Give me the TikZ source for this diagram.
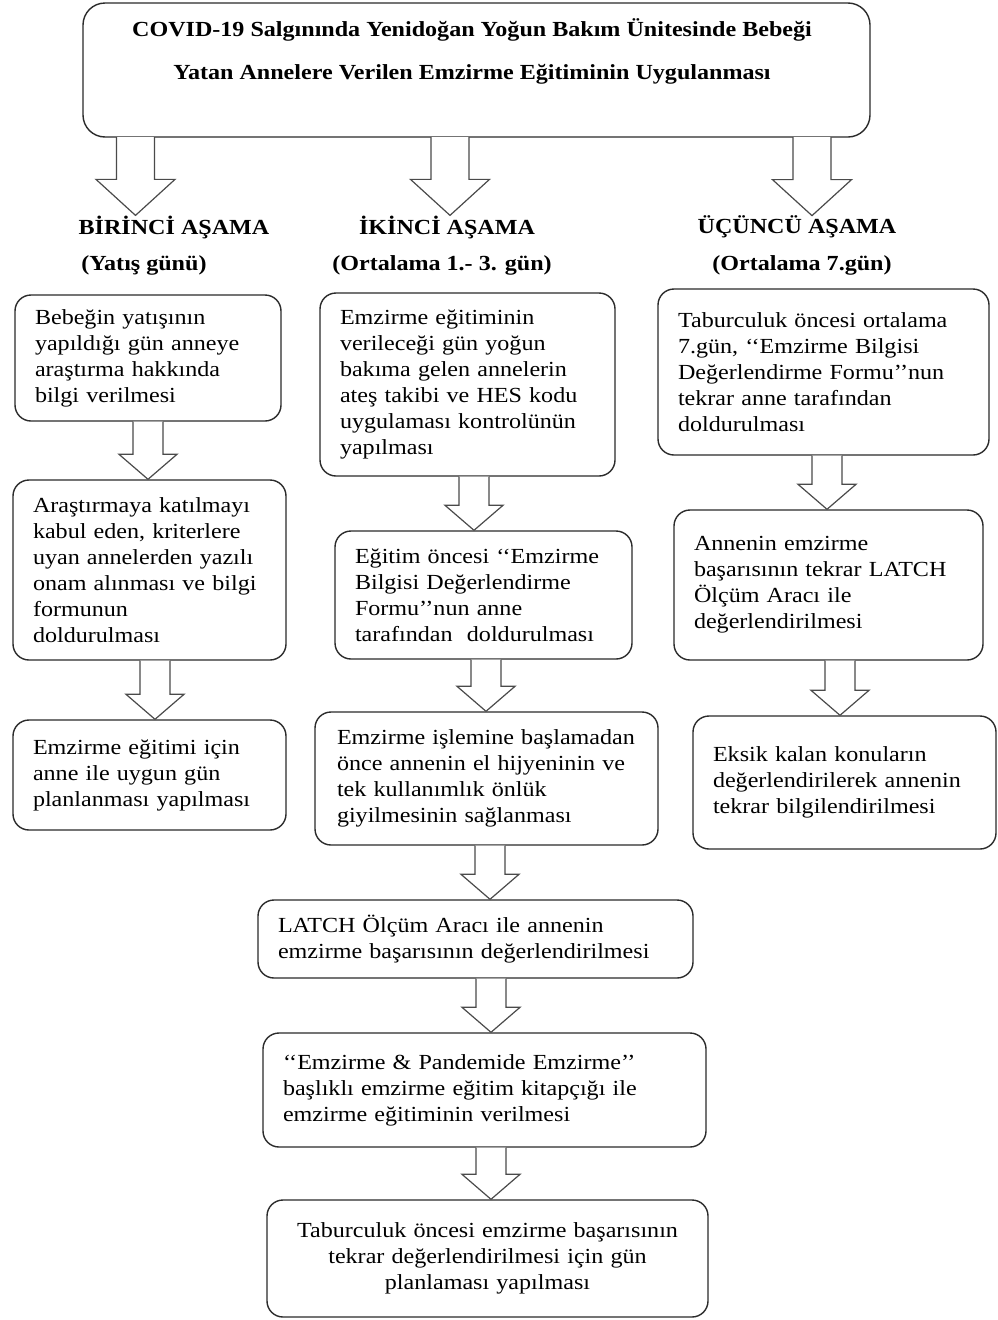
\documentclass[tikz,border=0pt]{standalone}
\usepackage{fontspec}
\setmainfont{Liberation Serif}[FakeStretch=1.12]
\usetikzlibrary{calc}
\definecolor{BoxLine}{HTML}{2B2B2B}
\definecolor{ArrowLine}{HTML}{4A4A4A}
\newcommand{\bodyfont}{\fontsize{21.5}{26}\selectfont}
\newcommand{\shaftw}{15pt}
\newcommand{\headw}{29pt}
\newcommand{\headl}{25pt}
\tikzset{
  stepbox/.style={draw=BoxLine, line width=1.4pt, rounded corners=16pt, fill=white,
                  align=left, inner xsep=20pt, inner ysep=3pt, font=\bodyfont},
  titlebox/.style={draw=BoxLine, line width=1.4pt, rounded corners=22pt, fill=white},
  phase/.style={inner sep=0pt, font=\bodyfont\bfseries},
  blockarrow/.style={draw=ArrowLine, line width=1.2pt, fill=white, line join=miter},
  bigarrow/.code={\def\shaftw{19pt}\def\headw{39.5pt}\def\headl{36pt}},
}
% hollow block arrow: x of the first point, tip at the second point
\newcommand{\blockarrow}[3][]{%
  \filldraw[blockarrow,#1] let \p1=(#2), \p2=(#3) in
    (\x1-\shaftw,\y1) -- (\x1-\shaftw,\y2+\headl) -- (\x1-\headw,\y2+\headl)
    -- (\x1,\y2) -- (\x1+\headw,\y2+\headl) -- (\x1+\shaftw,\y2+\headl)
    -- (\x1+\shaftw,\y1);}

\begin{document}
\begin{tikzpicture}[x=1pt,y=-1pt]
  \path[use as bounding box, fill=white] (0,0) rectangle (997,1320);

  \node[titlebox, minimum width=787pt, minimum height=134pt] (title) at (476.5,70) {};
  \node[inner sep=0pt, align=center, font=\fontsize{21.5}{43}\selectfont\bfseries] (titletext) at (472,51.5)
    {COVID-19 Salgınında Yenidoğan Yoğun Bakım Ünitesinde Bebeği\\
     Yatan Annelere Verilen Emzirme Eğitiminin Uygulanması};

  \node[phase] (ph1) at (174,227) {BİRİNCİ AŞAMA};
  \node[phase] (ph2) at (447,227) {İKİNCİ AŞAMA};
  \node[phase] (ph3) at (797,227) {ÜÇÜNCÜ AŞAMA};
  \node[phase] (day1) at (144,265) {(Yatış günü)};
  \node[phase] (day2) at (442,265) {(Ortalama 1.- 3. gün)};
  \node[phase] (day3) at (802,265) {(Ortalama 7.gün)};

  \coordinate (t1) at (135.5,137);
  \coordinate (t2) at (450,137);
  \coordinate (t3) at (812,137);

  \node[stepbox, text width=226pt, minimum height=126pt] (l1) at (148,358)
    {Bebeğin yatışının\\yapıldığı gün anneye\\araştırma hakkında\\bilgi verilmesi};
  \node[stepbox, text width=233pt, minimum height=180pt] (l2) at (149.5,570)
    {Araştırmaya katılmayı\\kabul eden, kriterlere\\uyan annelerden yazılı\\onam alınması ve bilgi\\formunun\\doldurulması};
  \node[stepbox, text width=233pt, minimum height=110pt] (l3) at (149.5,775)
    {Emzirme eğitimi için\\anne ile uygun gün\\planlanması yapılması};

  \node[stepbox, text width=255pt, minimum height=183pt] (m1) at (467.5,384.5)
    {Emzirme eğitiminin\\verileceği gün yoğun\\bakıma gelen annelerin\\ateş takibi ve HES kodu\\uygulaması kontrolünün\\yapılması};
  \node[stepbox, text width=257pt, minimum height=128pt] (m2) at (483.5,595)
    {Eğitim öncesi ‘‘Emzirme\\Bilgisi Değerlendirme\\Formu’’nun anne\\tarafından~ doldurulması};
  \node[stepbox, inner xsep=22pt, text width=299pt, minimum height=133pt] (m3) at (486.5,778.5)
    {Emzirme işlemine başlamadan\\önce annenin el hijyeninin ve\\tek kullanımlık önlük\\giyilmesinin sağlanması};
  \node[stepbox, text width=395pt, minimum height=78pt] (m4) at (475.5,939)
    {LATCH Ölçüm Aracı ile annenin\\emzirme başarısının değerlendirilmesi};
  \node[stepbox, text width=403pt, minimum height=114pt] (m5) at (484.5,1090)
    {‘‘Emzirme \& Pandemide Emzirme’’\\başlıklı emzirme eğitim kitapçığı ile\\emzirme eğitiminin verilmesi};
  \node[stepbox, align=center, text width=401pt, minimum height=117pt] (m6) at (487.5,1258.5)
    {Taburculuk öncesi emzirme başarısının\\tekrar değerlendirilmesi için gün\\planlaması yapılması};

  \node[stepbox, text width=291pt, minimum height=166pt] (r1) at (823.5,372)
    {Taburculuk öncesi ortalama\\7.gün, ‘‘Emzirme Bilgisi\\Değerlendirme Formu’’nun\\tekrar anne tarafından\\doldurulması};
  \node[stepbox, text width=269pt, minimum height=150pt] (r2) at (828.5,585)
    {Annenin emzirme\\başarısının tekrar LATCH\\Ölçüm Aracı ile\\değerlendirilmesi};
  \node[stepbox, text width=263pt, minimum height=133pt] (r3) at (844.5,782.5)
    {Eksik kalan konuların\\değerlendirilerek annenin\\tekrar bilgilendirilmesi};

  \blockarrow[bigarrow]{t1}{ph1.north}
  \blockarrow[bigarrow]{t2}{ph2.north}
  \blockarrow[bigarrow]{t3}{ph3.north}
  \blockarrow{l1.south}{l2.north}
  \blockarrow{$(l2.south)+(5.5,0)$}{l3.north}
  \blockarrow{$(m1.south)+(6.5,0)$}{m2.north}
  \blockarrow{$(m2.south)+(2.5,0)$}{m3.north}
  \blockarrow{$(m3.south)+(3.5,0)$}{m4.north}
  \blockarrow{$(m4.south)+(15.5,0)$}{m5.north}
  \blockarrow{$(m5.south)+(6.5,0)$}{m6.north}
  \blockarrow{$(r1.south)+(3.5,0)$}{r2.north}
  \blockarrow{$(r2.south)+(11.5,0)$}{r3.north}
\end{tikzpicture}
\end{document}
